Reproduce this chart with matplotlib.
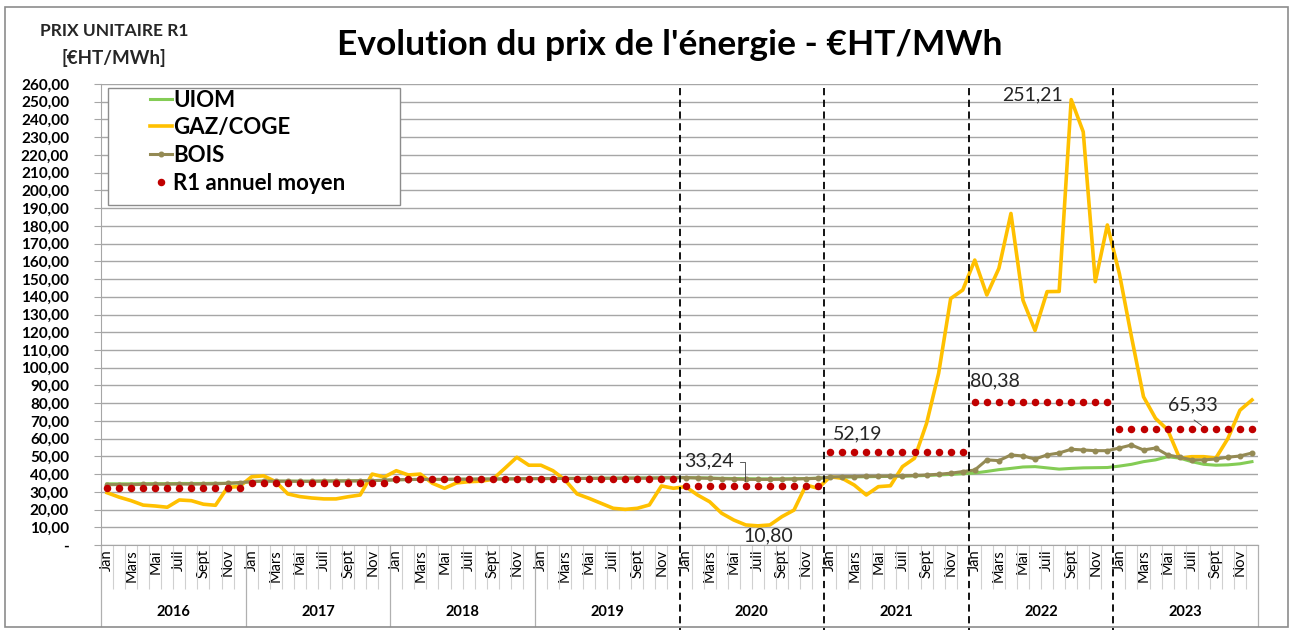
import numpy as np
import matplotlib.pyplot as plt
from matplotlib.patches import Rectangle

annees = ['2016', '2017', '2018', '2019', '2020', '2021', '2022', '2023']
mois = ['Jan', 'Mars', 'Mai', 'Juil', 'Sept', 'Nov']

uiom = [34.5, 34.5, 34.5, 34.6, 34.6, 34.6, 34.7, 34.7, 34.7, 34.8, 34.8, 35.0,
        35.8, 36.0, 36.0, 36.0, 36.0, 36.0, 36.1, 36.1, 36.2, 36.2, 36.3, 36.5,
        36.8, 36.9, 37.0, 37.0, 37.0, 37.1, 37.1, 37.2, 37.2, 37.3, 37.3, 37.4,
        37.5, 37.5, 37.6, 37.6, 37.6, 37.7, 37.7, 37.8, 37.8, 37.8, 37.9, 38.0,
        38.0, 37.9, 37.8, 37.6, 37.5, 37.4, 37.3, 37.3, 37.3, 37.4, 37.5, 37.7,
        38.0, 38.2, 38.4, 38.5, 38.6, 38.7, 38.8, 39.0, 39.2, 39.5, 39.8, 40.2,
        40.6, 41.5, 42.5, 43.2, 44.0, 44.2, 43.5, 42.8, 43.2, 43.5, 43.6, 43.7,
        44.5, 45.5, 47.0, 48.0, 49.8, 49.0, 47.0, 45.5, 45.0, 45.2, 45.8, 47.0]

gaz = [29.5, 27.0, 25.0, 22.5, 22.0, 21.3, 25.4, 25.0, 23.0, 22.4, 32.5, 33.0,
       38.5, 39.0, 35.7, 28.8, 27.3, 26.5, 26.0, 26.0, 27.2, 28.2, 40.0, 38.3,
       41.9, 39.5, 40.0, 34.8, 32.0, 35.0, 35.7, 36.0, 37.0, 43.2, 49.5, 45.0,
       45.0, 41.9, 36.7, 28.8, 26.3, 23.5, 20.7, 20.1, 20.7, 22.6, 33.3, 32.0,
       32.9, 28.2, 24.4, 17.9, 14.1, 11.3, 10.8, 11.3, 16.0, 19.7, 33.8, 32.0,
       38.5, 37.6, 33.8, 28.2, 32.9, 33.4, 44.2, 48.9, 68.6, 96.8, 139.0, 143.8,
       160.7, 141.0, 156.0, 187.0, 138.0, 121.0, 142.9, 143.0, 251.21, 233.0, 148.5, 180.5,
       153.0, 117.5, 83.6, 71.4, 65.0, 48.9, 49.8, 49.8, 49.0, 60.0, 76.0, 81.8]

bois = [34.0, 34.1, 34.0, 34.2, 34.3, 34.3, 34.4, 34.3, 34.4, 34.5, 34.8, 35.2,
        35.8, 36.0, 36.0, 36.0, 35.9, 35.9, 36.0, 36.1, 36.1, 36.2, 36.3, 36.5,
        36.8, 36.9, 37.0, 37.0, 37.0, 37.1, 37.1, 37.2, 37.2, 37.3, 37.3, 37.4,
        37.4, 37.5, 37.5, 37.5, 37.6, 37.6, 37.6, 37.7, 37.7, 37.7, 37.8, 37.9,
        38.0, 37.8, 37.6, 37.4, 37.2, 37.0, 37.0, 37.0, 37.1, 37.2, 37.4, 37.6,
        38.3, 38.6, 38.6, 38.8, 38.8, 38.9, 39.0, 39.2, 39.5, 39.9, 40.5, 41.4,
        42.3, 48.0, 47.6, 50.8, 50.2, 48.5, 50.8, 51.9, 54.0, 53.6, 53.2, 53.2,
        54.7, 56.4, 53.6, 54.7, 50.8, 49.5, 48.0, 48.0, 48.5, 49.5, 50.2, 51.9]

r1_annuel = [32.2, 35.1, 37.2, 37.4, 33.24, 52.19, 80.38, 65.33]

plt.rcParams['font.family'] = ['Lato', 'DejaVu Sans']

fig = plt.figure(figsize=(12.93, 6.32), dpi=100)
ax = fig.add_axes([101/1293, 87/632, 1157/1293, 461/632])

x = np.arange(len(gaz))
r1 = np.repeat(r1_annuel, 12)

ax.plot(x, uiom, color='#84CC55', lw=2.2, label='UIOM', zorder=3)
ax.plot(x, gaz, color='#FFC000', lw=2.6, label='GAZ/COGE', zorder=4)
ax.plot(x, bois, color='#948A54', lw=2.2, marker='o', ms=3.3, label='BOIS', zorder=5)
ax.plot(x, r1, ls='none', marker='o', ms=4.4, color='#C00000', label='R1 annuel moyen', zorder=6)

ax.set_xlim(-0.5, 95.5)
ax.set_ylim(0, 260)
yt = list(range(0, 261, 10))
ax.set_yticks(yt)
ax.set_yticklabels(['-' if v == 0 else f'{v},00' for v in yt], fontsize=11, weight='bold')
ax.tick_params(axis='y', length=5, color='#a6a6a6', pad=18)
ax.grid(axis='y', color='#a6a6a6', lw=1)
ax.set_axisbelow(True)
for s in ['top', 'right']:
    ax.spines[s].set_visible(False)
for s in ['left', 'bottom']:
    ax.spines[s].set_color('#a6a6a6')

# axe des mois
ax.set_xticks(range(0, 96, 2))
ax.set_xticklabels(mois * 8, rotation=90, fontsize=10.5, va='top')
ax.tick_params(axis='x', which='major', length=0, pad=3)
limites = [b - 0.5 for b in range(1, 96) if b % 12 != 0]
ax.set_xticks(limites, minor=True)
ax.tick_params(axis='x', which='minor', length=32, color='#d0d0d0', width=0.8)

for i, a in enumerate(annees):
    ax.text(12*i + 5.5, -0.145, a, transform=ax.get_xaxis_transform(),
            ha='center', va='center', fontsize=10.5, weight='bold')
    b = 12*i - 0.5
    if i < 4:
        ax.plot([b, b], [0, -0.175], transform=ax.get_xaxis_transform(),
                color='#b0b0b0', lw=0.9, clip_on=False)
    else:
        ax.plot([b, b], [0.992, -0.185], transform=ax.get_xaxis_transform(),
                color='black', lw=1.3, ls=(0, (4, 2.5)), clip_on=False, zorder=7)
ax.plot([95.5, 95.5], [0, -0.175], transform=ax.get_xaxis_transform(),
        color='#b0b0b0', lw=0.9, clip_on=False)

# étiquettes
etiq = dict(fontsize=14, color='#262626', zorder=8)
ax.text(47.9, 47.5, '33,24', ha='left', va='center', **etiq)
ax.plot([52.5, 52.9, 52.9], [47.0, 47.0, 36.0], color='#404040', lw=0.6, zorder=8)
ax.text(60.2, 62.6, '52,19', ha='left', va='center', **etiq)
ax.text(71.6, 92.5, '80,38', ha='left', va='center', **etiq)
ax.text(88.0, 79.0, '65,33', ha='left', va='center', **etiq)
ax.plot([90.2, 90.8], [70.5, 67.5], color='#404040', lw=0.6, zorder=8)
ax.text(79.3, 253.8, '251,21', ha='right', va='center', **etiq)
ax.text(54.9, 5.0, '10,80', ha='center', va='center', **etiq)

# légende
ax.add_patch(Rectangle((0.006, 0.7375), 0.2525, 0.2538, transform=ax.transAxes,
                       facecolor='white', edgecolor='#8c8c8c', lw=1, zorder=9))
leg = ax.legend(loc='upper left', bbox_to_anchor=(0.042, 0.988), frameon=False,
                prop={'weight': 'bold', 'size': 16}, handlelength=1.0,
                handletextpad=0.05, borderpad=0, borderaxespad=0, labelspacing=0.3,
                numpoints=1)
leg.set_zorder(10)

fig.text(0.518, 0.929, "Evolution du prix de l'énergie - €HT/MWh",
         ha='center', va='center', fontsize=25.5, weight='bold')
fig.text(114/1293, 1 - 31/632, 'PRIX UNITAIRE R1', ha='center', va='center',
         fontsize=12.5, weight='bold', color='#262626')
fig.text(114/1293, 1 - 58/632, '[€HT/MWh]', ha='center', va='center',
         fontsize=13.5, weight='bold', color='#262626')

fig.patches.append(Rectangle((5/1293, 5/632), 1283/1293, 620/632, transform=fig.transFigure,
                             fill=False, edgecolor='#8c8c8c', lw=1.2))

fig.savefig('out.png', dpi=100)
